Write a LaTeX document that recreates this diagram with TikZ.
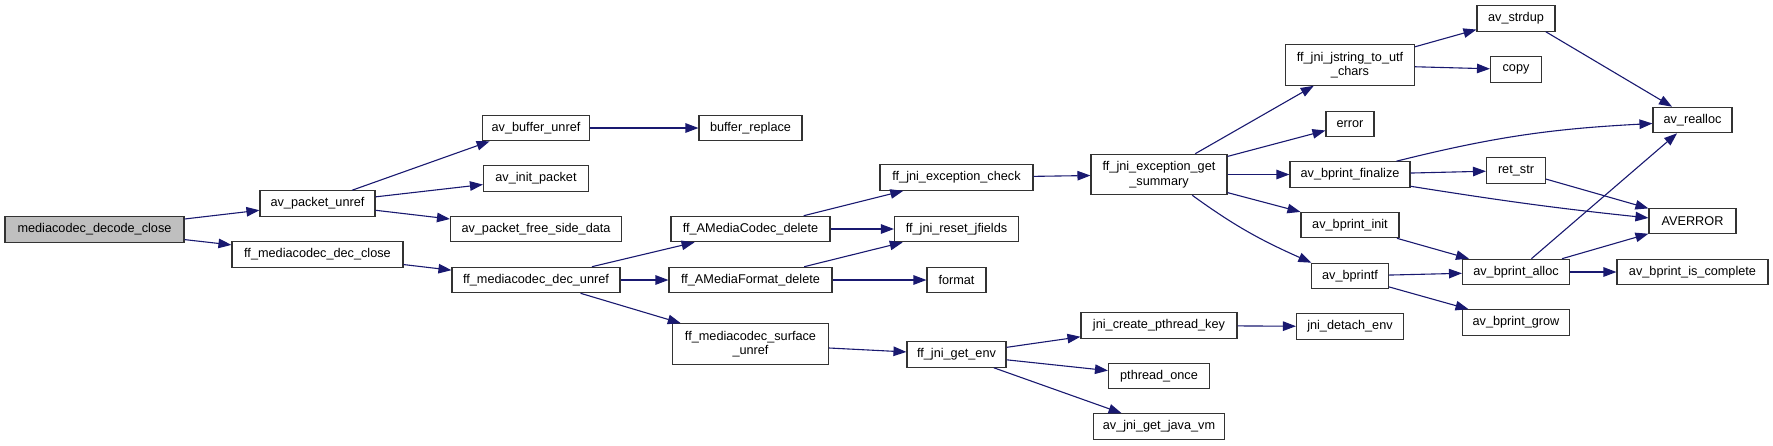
\documentclass[tikz,border=0pt]{standalone}
\usepackage{fontspec}
\setsansfont{Liberation Sans}
\usepackage{tikz}
\usetikzlibrary{arrows.meta}
\definecolor{edgecol}{HTML}{191970}
\definecolor{boxcol}{HTML}{333333}
\definecolor{rootcol}{HTML}{BFBFBF}

\tikzset{
  fnbox/.style={draw=boxcol, fill=white, line width=1.1pt, inner sep=0pt,
    minimum height=25.5pt, align=center},
  rootbox/.style={fnbox, fill=rootcol},
  calls/.style={draw=edgecol, line width=1.1pt, -{Triangle[length=13pt,width=9.5pt]}}
}

\begin{document}
\begin{tikzpicture}[
  x=1pt, y=-1pt, font=\sffamily\fontsize{12.7}{14.5}\selectfont
]
\useasboundingbox (0,0) rectangle (1773,445);

\node[rootbox, minimum width=179] (mdc) at (94.5,229.5) {mediacodec\_decode\_close};
\node[fnbox, minimum width=115] (apu) at (317.5,203.5) {av\_packet\_unref};
\node[fnbox, minimum width=171] (ffdc) at (317.5,254.5) {ff\_mediacodec\_dec\_close};

\node[fnbox, minimum width=107] (abu) at (536,128) {av\_buffer\_unref};
\node[fnbox, minimum width=105] (aip) at (536,178.5) {av\_init\_packet};
\node[fnbox, minimum width=171] (apfsd) at (536,229) {av\_packet\_free\_side\_data};
\node[fnbox, minimum width=168] (ffdu) at (536,280) {ff\_mediacodec\_dec\_unref};

\node[fnbox, minimum width=103] (bre) at (750.5,128) {buffer\_replace};
\node[fnbox, minimum width=159] (amcd) at (750.5,229) {ff\_AMediaCodec\_delete};
\node[fnbox, minimum width=163] (amfd) at (750.5,280) {ff\_AMediaFormat\_delete};
\node[fnbox, minimum width=156, minimum height=40.5] (msu) at (750.5,344) {ff\_mediacodec\_surface\\\_unref};

\node[fnbox, minimum width=153] (jec) at (956.5,177.5) {ff\_jni\_exception\_check};
\node[fnbox, minimum width=124] (jrj) at (956.5,229) {ff\_jni\_reset\_jfields};
\node[fnbox, minimum width=59] (fmt) at (956.5,280) {format};
\node[fnbox, minimum width=99] (jge) at (956.5,354.5) {ff\_jni\_get\_env};

\node[fnbox, minimum width=136, minimum height=40.5] (jes) at (1159,174.5) {ff\_jni\_exception\_get\\\_summary};
\node[fnbox, minimum width=156] (jcpk) at (1159,325.5) {jni\_create\_pthread\_key};
\node[fnbox, minimum width=101] (pto) at (1159,376) {pthread\_once};
\node[fnbox, minimum width=131] (ajgjv) at (1159,426.5) {av\_jni\_get\_java\_vm};

\node[fnbox, minimum width=129, minimum height=40.5] (jsu) at (1350,65) {ff\_jni\_jstring\_to\_utf\\\_chars};
\node[fnbox, minimum width=48] (err) at (1350,124) {error};
\node[fnbox, minimum width=120] (abf) at (1350,174.5) {av\_bprint\_finalize};
\node[fnbox, minimum width=98] (abi) at (1350,225) {av\_bprint\_init};
\node[fnbox, minimum width=77] (abpf) at (1350,276) {av\_bprintf};
\node[fnbox, minimum width=107] (jde) at (1350,326.5) {jni\_detach\_env};

\node[fnbox, minimum width=78] (asd) at (1516,18.5) {av\_strdup};
\node[fnbox, minimum width=51] (cpy) at (1516,69.5) {copy};
\node[fnbox, minimum width=59] (rst) at (1516,170.5) {ret\_str};
\node[fnbox, minimum width=107] (aba) at (1516,272) {av\_bprint\_alloc};
\node[fnbox, minimum width=107] (abg) at (1516,322.5) {av\_bprint\_grow};

\node[fnbox, minimum width=79] (arl) at (1692.5,120) {av\_realloc};
\node[fnbox, minimum width=87] (averr) at (1692.5,221) {AVERROR};
\node[fnbox, minimum width=151] (abic) at (1692.5,272) {av\_bprint\_is\_complete};

% calls
\draw[calls] (mdc) -- (apu);
\draw[calls] (mdc) -- (ffdc);
\draw[calls] (apu.21) -- (abu.196);
\draw[calls] (apu) -- (aip);
\draw[calls] (apu) -- (apfsd);
\draw[calls] (ffdc) -- (ffdu);
\draw[calls] (abu) -- (bre);
\draw[calls] (ffdu) -- (amcd);
\draw[calls] (ffdu) -- (amfd);
\draw[calls] (ffdu) -- (msu);
\draw[calls] (amcd) -- (jec);
\draw[calls] (amcd) -- (jrj);
\draw[calls] (amfd) -- (jrj);
\draw[calls] (amfd) -- (fmt);
\draw[calls] (msu) -- (jge);
\draw[calls] (jec) -- (jes);
\draw[calls] (jge) -- (jcpk);
\draw[calls] (jge) -- (pto);
\draw[calls] (jge) -- (ajgjv);
\draw[calls] (jcpk) -- (jde);

\draw[calls] (jes) -- (jsu);
\draw[calls] (jes) -- (err);
\draw[calls] (jes) -- (abf);
\draw[calls] (jes) -- (abi);
\draw[calls] (jes.-32) to[out=-36, in=156] (abpf.161);

\draw[calls] (jsu) -- (asd);
\draw[calls] (jsu) -- (cpy);
\draw[calls] (asd.-24) -- (arl.147);
\draw[calls] (abf.16) to[out=14, in=183] (arl.185);
\draw[calls] (abf) -- (rst);
\draw[calls] (abf.-11) to[out=-9, in=174] (averr.176);
\draw[calls] (rst) -- (averr);
\draw[calls] (abi) -- (aba);
\draw[calls] (abpf) -- (aba);
\draw[calls] (abpf) -- (abg);
\draw[calls] (aba) -- (arl);
\draw[calls] (aba) -- (averr);
\draw[calls] (aba) -- (abic);
\end{tikzpicture}
\end{document}
